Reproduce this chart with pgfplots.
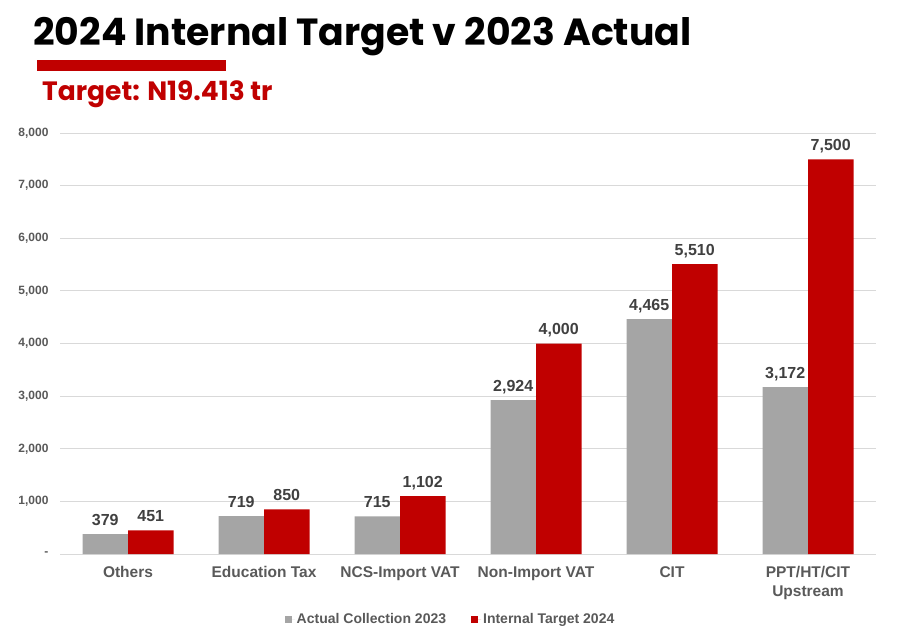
\documentclass[border=0pt]{standalone}
\usepackage{pgfplots}
\pgfplotsset{compat=1.18}
\usepackage{fontspec}
\setmainfont{Liberation Sans}
\newfontfamily\poppins{Poppins}
\definecolor{cgray}{HTML}{A5A5A5}
\definecolor{cred}{HTML}{C00000}
\definecolor{cgrid}{HTML}{D9D9D9}
\definecolor{ctick}{HTML}{595959}
\definecolor{clab}{HTML}{404040}
\begin{document}
\begin{tikzpicture}
\useasboundingbox (0,0) rectangle (901bp,641bp);
\node[anchor=base west, inner sep=0pt, font=\poppins\bfseries\fontsize{37.8bp}{45bp}\selectfont] at (33bp,595bp) {2024 Internal Target v 2023 Actual};
\fill[cred] (37bp,570bp) rectangle (226bp,581bp);
\node[anchor=base west, inner sep=0pt, text=cred, font=\poppins\bfseries\fontsize{26.5bp}{31bp}\selectfont] at (42bp,540.3bp) {Target: N19.413 tr};
\begin{axis}[
  at={(60bp,87bp)}, anchor=south west,
  scale only axis, width=816bp, height=421bp,
  xmin=-0.5, xmax=5.5, ymin=0, ymax=8000,
  clip=false,
  axis line style={draw=none},
  major tick length=0pt,
  ymajorgrids, grid style={cgrid, line width=0.9bp},
  ytick={0,1000,...,8000},
  yticklabels={{-\hspace{8bp}},{1,000},{2,000},{3,000},{4,000},{5,000},{6,000},{7,000},{8,000}},
  yticklabel style={font=\bfseries\fontsize{12bp}{14bp}\selectfont, text=ctick, xshift=-8bp},
  xtick={0,1,2,3,4,5},
  xticklabels={Others,Education Tax,NCS-Import VAT,Non-Import VAT,CIT,{PPT/HT/CIT\\Upstream}},
  xticklabel style={font=\bfseries\fontsize{15.5bp}{18.5bp}\selectfont, text=ctick, align=center, yshift=-9bp},
  ybar=0pt, bar width=45.5bp,
  nodes near coords,
  /pgf/number format/.cd, 1000 sep={,}, assume math mode=true, /pgfplots/.cd,
  every node near coord/.append style={font=\bfseries\fontsize{16bp}{19bp}\selectfont, text=clab, anchor=base, yshift=9bp, inner sep=0pt},
  legend style={draw=none, fill=none, legend columns=2, at={(0.4786,-0.1544)}, anchor=center,
    font=\bfseries\fontsize{14bp}{17bp}\selectfont, text=ctick,
    /tikz/every even column/.append style={column sep=23bp}},
]
\addplot[fill=cgray, draw=none, legend image code/.code={\fill[cgray] (0bp,-3.5bp) rectangle (7bp,3.5bp); \path (0bp,0bp) -- (10bp,0bp);}] coordinates {(0,379) (1,719) (2,715) (3,2924) (4,4465) (5,3172)};
\addplot[fill=cred, draw=none, legend image code/.code={\fill[cred] (0bp,-3.5bp) rectangle (7bp,3.5bp); \path (0bp,0bp) -- (10bp,0bp);}] coordinates {(0,451) (1,850) (2,1102) (3,4000) (4,5510) (5,7500)};
\legend{Actual Collection 2023, Internal Target 2024}
\end{axis}
\end{tikzpicture}
\end{document}
